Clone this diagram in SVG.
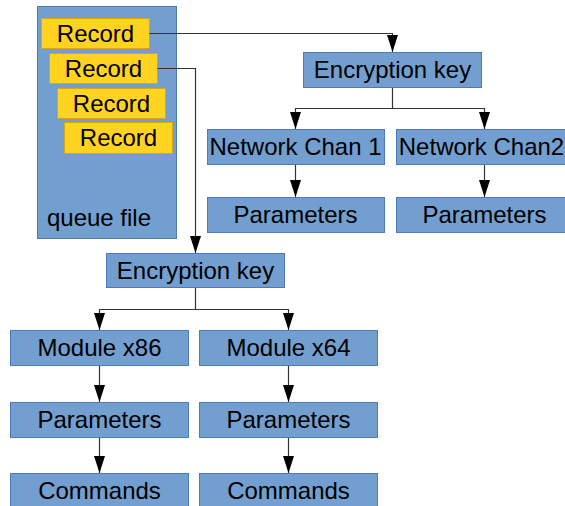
<svg xmlns="http://www.w3.org/2000/svg" width="565" height="506" viewBox="0 0 565 506">
  <style>
    .box { fill: #729fcf; stroke: #4d7bb8; stroke-width: 1; }
    .rec { fill: #ffd320; stroke: #d9a514; stroke-width: 1; }
    .lbl { font-family: "Liberation Sans", Arial, sans-serif; font-size: 24px; fill: #000; text-anchor: middle; }
    .wire { fill: none; stroke: #333333; stroke-width: 1.2; }
  </style>
  <defs>
    <marker id="head" markerUnits="userSpaceOnUse" markerWidth="18" markerHeight="12" refX="17" refY="5.5" orient="auto" viewBox="0 0 18 12">
      <path d="M0,0 L17,5.5 L0,11 Z" fill="#000"/>
    </marker>
  </defs>

  <!-- queue file container with its records -->
  <g id="queue-file">
    <rect class="box" x="37.5" y="6.5" width="139" height="232"/>
    <text class="lbl" x="99" y="226">queue file</text>
  </g>
  <g id="record-1">
    <rect class="rec" x="41.5" y="18.5" width="108" height="30"/>
    <text class="lbl" x="95.5" y="42">Record</text>
  </g>
  <g id="record-2">
    <rect class="rec" x="49.5" y="53.5" width="108" height="30"/>
    <text class="lbl" x="103.5" y="77">Record</text>
  </g>
  <g id="record-3">
    <rect class="rec" x="57.5" y="88.5" width="108" height="30"/>
    <text class="lbl" x="111.5" y="112">Record</text>
  </g>
  <g id="record-4">
    <rect class="rec" x="64.5" y="122.5" width="108" height="31"/>
    <text class="lbl" x="118.5" y="146">Record</text>
  </g>

  <!-- connectors -->
  <g id="connectors">
    <path class="wire" d="M149.5,33.5 H392.5 V52" marker-end="url(#head)"/>
    <path class="wire" d="M157.5,68.5 H195.5 V253" marker-end="url(#head)"/>
    <path class="wire" d="M392.5,87 V108.5 H295.5 V129" marker-end="url(#head)"/>
    <path class="wire" d="M392.5,108.5 H484.5 V129" marker-end="url(#head)"/>
    <path class="wire" d="M295.5,164 V197" marker-end="url(#head)"/>
    <path class="wire" d="M484.5,164 V197" marker-end="url(#head)"/>
    <path class="wire" d="M195.5,287 V309.5 H99.5 V330" marker-end="url(#head)"/>
    <path class="wire" d="M195.5,309.5 H288.5 V330" marker-end="url(#head)"/>
    <path class="wire" d="M99.5,365 V402" marker-end="url(#head)"/>
    <path class="wire" d="M288.5,365 V402" marker-end="url(#head)"/>
    <path class="wire" d="M99.5,437 V473" marker-end="url(#head)"/>
    <path class="wire" d="M288.5,437 V473" marker-end="url(#head)"/>
  </g>

  <!-- upper tree -->
  <g id="encryption-key-upper">
    <rect class="box" x="303.5" y="52.5" width="178" height="35"/>
    <text class="lbl" x="392.5" y="78">Encryption key</text>
  </g>
  <g id="network-chan-1">
    <rect class="box" x="207.5" y="129.5" width="177" height="35"/>
    <text class="lbl" x="295.5" y="155">Network Chan 1</text>
  </g>
  <g id="network-chan-2">
    <rect class="box" x="396.5" y="129.5" width="177" height="35"/>
    <text class="lbl" x="481.5" y="155">Network Chan2</text>
  </g>
  <g id="parameters-chan-1">
    <rect class="box" x="207.5" y="197.5" width="177" height="35"/>
    <text class="lbl" x="295.5" y="223">Parameters</text>
  </g>
  <g id="parameters-chan-2">
    <rect class="box" x="396.5" y="197.5" width="177" height="35"/>
    <text class="lbl" x="484.5" y="223">Parameters</text>
  </g>

  <!-- lower tree -->
  <g id="encryption-key-lower">
    <rect class="box" x="106.5" y="253.5" width="178" height="34"/>
    <text class="lbl" x="195.5" y="279">Encryption key</text>
  </g>
  <g id="module-x86">
    <rect class="box" x="10.5" y="330.5" width="178" height="35"/>
    <text class="lbl" x="99.5" y="356">Module x86</text>
  </g>
  <g id="module-x64">
    <rect class="box" x="199.5" y="330.5" width="178" height="35"/>
    <text class="lbl" x="288.5" y="356">Module x64</text>
  </g>
  <g id="parameters-x86">
    <rect class="box" x="10.5" y="402.5" width="178" height="35"/>
    <text class="lbl" x="99.5" y="428">Parameters</text>
  </g>
  <g id="parameters-x64">
    <rect class="box" x="199.5" y="402.5" width="178" height="35"/>
    <text class="lbl" x="288.5" y="428">Parameters</text>
  </g>
  <g id="commands-x86">
    <rect class="box" x="10.5" y="473.5" width="178" height="40"/>
    <text class="lbl" x="99.5" y="499">Commands</text>
  </g>
  <g id="commands-x64">
    <rect class="box" x="199.5" y="473.5" width="178" height="40"/>
    <text class="lbl" x="288.5" y="499">Commands</text>
  </g>
</svg>
